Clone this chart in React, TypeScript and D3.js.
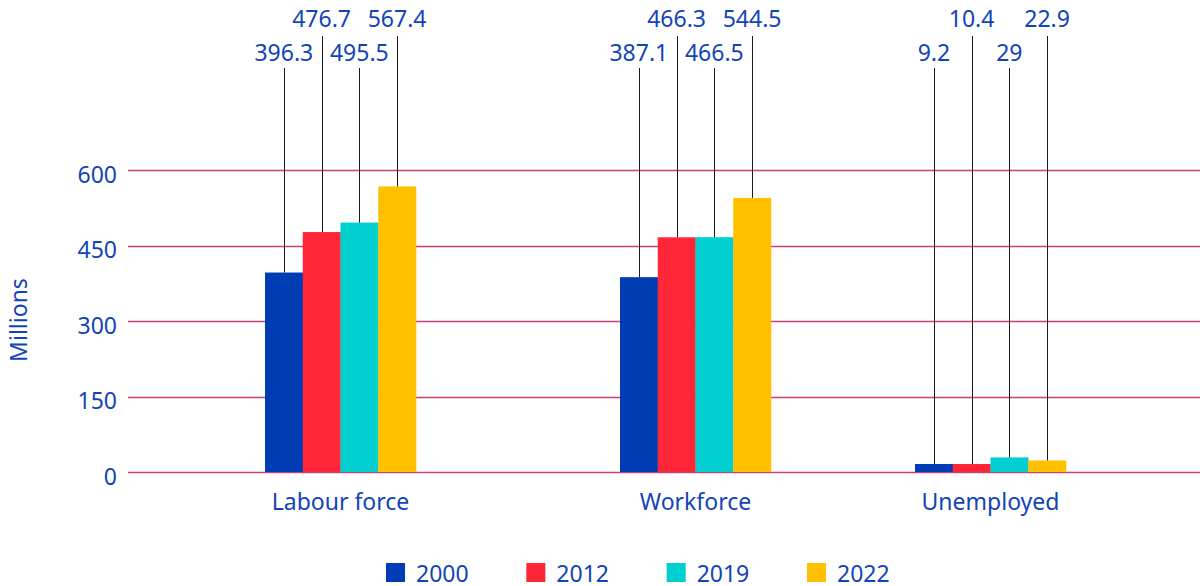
import React from 'react';
import * as d3 from 'd3';

// chart data
const categories = ['Labour force', 'Workforce', 'Unemployed'];
const years = ['2000', '2012', '2019', '2022'];
const values2000 = [396.3, 387.1, 9.2];
const values2012 = [476.7, 466.3, 10.4];
const values2019 = [495.5, 466.5, 29];
const values2022 = [567.4, 544.5, 22.9];
const yTicks = [0, 150, 300, 450, 600];
const colors = ['#003cb4', '#ff2638', '#00cfcf', '#ffc000'];

const series = [values2000, values2012, values2019, values2022];

const W = 1200;
const H = 586;
const textColor = '#1244b8';
const font = '"Noto Sans", "Open Sans", sans-serif';

export default function App() {
  const y = d3.scaleLinear().domain([0, 600]).range([472, 170]);
  // group centres are not evenly spaced in the original
  const xGroup = d3.scaleOrdinal<string, number>().domain(categories).range([340.5, 695.5, 990.5]);
  const xYear = d3.scaleBand().domain(years).range([-75.5, 75.5]).padding(0);
  const legendX = d3.scalePoint().domain(years).range([386, 807]);

  return (
    <svg width={W} height={H} style={{ position: 'absolute', left: 0, top: 0 }} fontFamily={font}>
      <rect width={W} height={H} fill="#fff" />
      {yTicks.map(t => (
        <g key={t}>
          <line x1={128} x2={W} y1={Math.round(y(t)) + 0.5} y2={Math.round(y(t)) + 0.5} stroke="#c43f7c" strokeWidth={1.4} />
          <text x={117} y={y(t) + 12.5} textAnchor="end" fontSize={23} fill={textColor}>{t}</text>
        </g>
      ))}
      <text transform={`translate(27,${320}) rotate(-90)`} textAnchor="middle" fontSize={23} fill={textColor}>Millions</text>

      {categories.map((c, ci) => (
        <g key={c}>
          {years.map((yr, si) => {
            const v = series[si][ci];
            const x0 = xGroup(c) + (xYear(yr) as number);
            const bw = xYear.bandwidth();
            const h = Math.max(y(0) - y(v), 8);
            const top = y(0) - h;
            const cx = x0 + bw / 2;
            const upper = si % 2 === 1;
            const labelY = upper ? 27 : 61;
            const lineStart = upper ? 36 : 68;
            return (
              <g key={yr}>
                <rect x={x0} y={top} width={bw + 0.3} height={h} fill={colors[si]} />
                <line x1={Math.round(cx) + 0.5} x2={Math.round(cx) + 0.5} y1={lineStart} y2={top} stroke="#1a1a1a" strokeWidth={1} />
                <text x={cx} y={labelY} textAnchor="middle" fontSize={23} fill={textColor}>{v}</text>
              </g>
            );
          })}
          <text x={xGroup(c)} y={510} textAnchor="middle" fontSize={23} fill={textColor}>{c}</text>
        </g>
      ))}

      {years.map((yr, i) => (
        <g key={yr}>
          <rect x={legendX(yr) as number} y={563} width={19} height={19} fill={colors[i]} />
          <text x={(legendX(yr) as number) + 30} y={582} fontSize={23} fill={textColor}>{yr}</text>
        </g>
      ))}
    </svg>
  );
}
